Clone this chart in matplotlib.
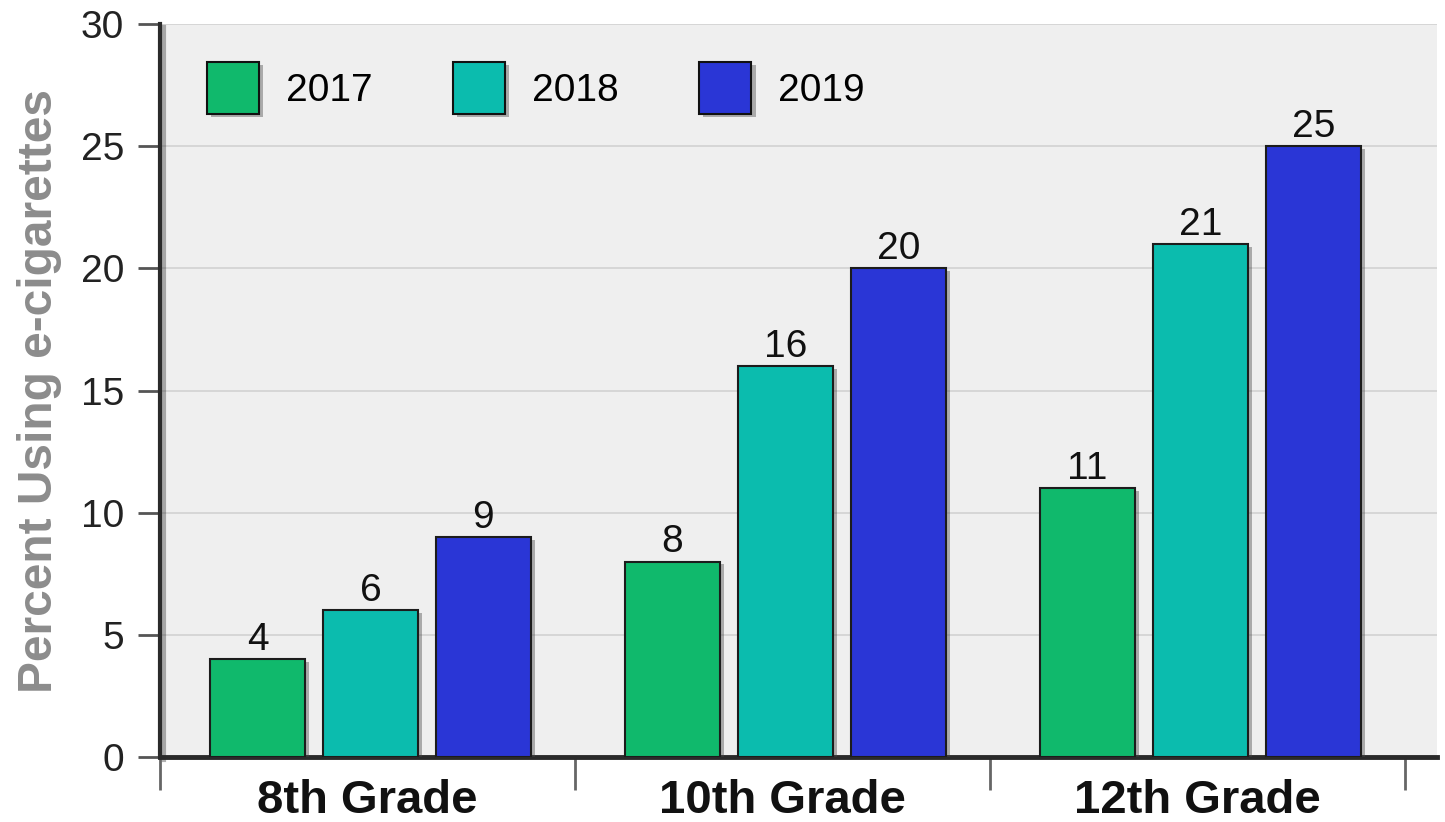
import matplotlib.pyplot as plt
import matplotlib.patheffects as pe
import numpy as np

# Data
grades = ["8th Grade", "10th Grade", "12th Grade"]
years = ["2017", "2018", "2019"]
pct_2017 = [4, 8, 11]
pct_2018 = [6, 16, 21]
pct_2019 = [9, 20, 25]
colors = ["#10b96c", "#0bbcae", "#2a36d6"]

plt.rcParams['font.family'] = ['Liberation Sans', 'DejaVu Sans']

fig = plt.figure(figsize=(14.45, 8.22), dpi=100)
ax = fig.add_axes([160 / 1445, 65 / 822, 1277 / 1445, 733 / 822])
ax.set_facecolor("#efefef")

x = np.arange(len(grades))
pitch = 0.272
width = 0.229
shadow = [pe.SimplePatchShadow(offset=(3, -2), alpha=0.4, shadow_rgbFace="#444444"), pe.Normal()]

for i, (vals, col, yr) in enumerate(zip([pct_2017, pct_2018, pct_2019], colors, years)):
    bars = ax.bar(x + (i - 1) * pitch + 0.007, vals, width, color=col,
                  edgecolor="#1c1c1c", linewidth=1.5, label=yr, zorder=3)
    for b in bars:
        b.set_path_effects(shadow)
        ax.annotate(f"{b.get_height():.0f}", (b.get_x() + b.get_width() / 2, b.get_height()),
                    xytext=(0, 1), textcoords="offset points", ha="center", va="bottom",
                    fontsize=28, color="#111111", zorder=4)

# Axes styling
ax.set_ylim(0, 30)
ax.set_xlim(-0.5, 2.577)
ax.set_yticks(range(0, 31, 5))
ax.yaxis.grid(True, color="#d2d2d2", linewidth=1.2, zorder=0)
ax.set_axisbelow(True)
ax.tick_params(axis="y", labelsize=28, length=16, width=2, color="#555555", pad=10, labelcolor="#222222")

ax.set_xticks([-0.5, 0.5, 1.5, 2.5])
ax.set_xticklabels([])
ax.set_xticks(x, minor=True)
ax.set_xticklabels(grades, minor=True, fontsize=34, fontweight="bold", color="#111111")
ax.tick_params(axis="x", which="major", length=24, width=2, color="#666666")
ax.tick_params(axis="x", which="minor", length=0, pad=16)

for s in ["top", "right"]:
    ax.spines[s].set_visible(False)
ax.spines["left"].set_linewidth(3)
ax.spines["left"].set_color("#2a2a2a")
ax.spines["bottom"].set_linewidth(3.5)
ax.spines["bottom"].set_color("#2a2a2a")
ax.spines["left"].set_path_effects([pe.SimpleLineShadow(offset=(3, -2), alpha=0.3), pe.Normal()])

ax.set_ylabel("Percent Using e-cigarettes", fontsize=34.5, fontweight="bold", color="#8c8c8c")
ax.yaxis.set_label_coords(-0.0769, 0.5)

# Legend
leg = ax.legend(loc="upper left", bbox_to_anchor=(207 / 1445, 1 - 62 / 822),
                bbox_transform=fig.transFigure,
                ncol=3, frameon=False, fontsize=28, handlelength=1.34, handleheight=1.68,
                handletextpad=0.69, columnspacing=2.07, borderpad=0, borderaxespad=0)
for h in leg.get_patches():
    h.set_path_effects(shadow)
    h.set_edgecolor("#111111")

fig.savefig("out.png", dpi=100)
